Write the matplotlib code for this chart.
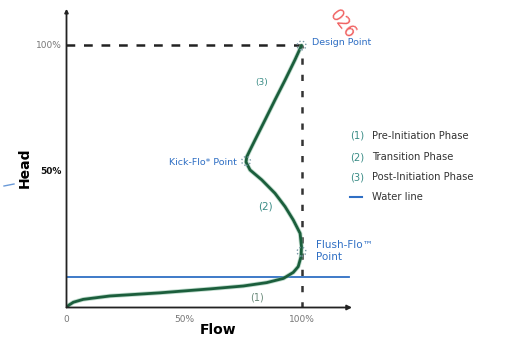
import matplotlib
matplotlib.use("Agg")
import matplotlib.pyplot as plt

# ---- data (fractions of design flow / head) ----
curve_flow = [0.0, 0.010, 0.029, 0.071, 0.185, 0.398, 0.611, 0.752, 0.852, 0.923,
              0.965, 0.986, 0.998, 1.0, 0.994, 0.965, 0.930, 0.887, 0.831, 0.781,
              0.764, 0.767, 0.781, 0.802, 0.845, 0.887, 0.930, 0.972, 1.0]
curve_head = [0.0, 0.009, 0.020, 0.031, 0.044, 0.056, 0.071, 0.082, 0.095, 0.111,
              0.134, 0.156, 0.194, 0.232, 0.283, 0.334, 0.385, 0.436, 0.487, 0.525,
              0.555, 0.575, 0.601, 0.639, 0.716, 0.792, 0.868, 0.945, 1.0]
water_line = 0.115
points = {"Design": (1.0, 1.0), "Kick": (0.764, 0.559), "Flush": (1.0, 0.213)}
x_ticks = [0.5, 1.0]
x_tick_labels = ["50%", "100%"]
y_ticks = [0.5, 1.0]
y_tick_labels = ["50%", "100%"]
legend_nums = ["(1)", "(2)", "(3)"]
legend_texts = ["Pre-Initiation Phase", "Transition Phase", "Post-Initiation Phase"]

GREEN = "#1b5e3c"
BLUE = "#2f6fc4"
TEAL = "#3a8c86"

fig = plt.figure(figsize=(5.06, 3.39), dpi=100)
ax = fig.add_axes([66.5 / 506, (339 - 307.5) / 339, 286 / 506, 298.7 / 339])
ax.set_xlim(0, 1.217)
ax.set_ylim(0, 1.14)
ax.axis("off")

# axes with arrows
ax.annotate("", xy=(1.215, 0), xytext=(0, 0),
            arrowprops=dict(arrowstyle="-|>", lw=1.3, color="#222222",
                            mutation_scale=7, shrinkA=0, shrinkB=0))
ax.annotate("", xy=(0, 1.14), xytext=(0, 0),
            arrowprops=dict(arrowstyle="-|>", lw=1.3, color="#222222",
                            mutation_scale=5, shrinkA=0, shrinkB=0))

# dashed guide lines
ax.plot([0, 1.0], [1.0, 1.0], ls=(0, (3.5, 3.5)), color="#222222", lw=1.8)
ax.plot([1.0, 1.0], [0, 1.0], ls=(0, (2.5, 4)), color="#333333", lw=1.8)

# water line
ax.plot([0, 1.2], [water_line, water_line], color=BLUE, lw=1.3)

# curve
ax.plot(curve_flow, curve_head, color="#7fb89a", lw=3.2, solid_capstyle="round",
        solid_joinstyle="round", alpha=0.5)
ax.plot(curve_flow, curve_head, color=GREEN, lw=2.0, solid_capstyle="round",
        solid_joinstyle="round")

# dotted point markers
for (px, py) in points.values():
    ax.scatter([px], [py], s=40, facecolors="none", edgecolors="#7a9aa8",
               linestyles=":", linewidths=1.0, zorder=5)

# ticks
tk = dict(fontsize=6.5, color="#777777")
for v, lab in zip(x_ticks, x_tick_labels):
    ax.text(v, -0.03, lab, ha="center", va="top", **tk)
ax.text(0, -0.03, "0", ha="center", va="top", **tk)
ax.text(-0.02, 1.0, y_tick_labels[1], ha="right", va="center", **tk)
ax.text(-0.02, 0.52, y_tick_labels[0], ha="right", va="center", fontsize=6.5,
        color="#111111", fontweight="bold")

# axis titles
fig.text(218 / 506, 1 - 330 / 339, "Flow", ha="center", va="center",
         fontsize=10, fontweight="bold")
fig.text(25 / 506, 1 - 168 / 339, "Head", ha="center", va="center",
         fontsize=10, fontweight="bold", rotation=90)

# annotations
ax.text(1.045, 1.01, "Design Point", color=BLUE, fontsize=6.8, ha="left", va="center")
ax.text(0.725, 0.555, "Kick-Flo* Point", color=BLUE, fontsize=6.8, ha="right", va="center")
ax.text(1.06, 0.215, "Flush-Flo\u2122\nPoint", color=BLUE, fontsize=7.5, ha="left",
        va="center", linespacing=1.3)
ax.text(0.83, 0.86, "(3)", color=TEAL, fontsize=6.5, ha="center", va="center")
ax.text(0.845, 0.385, "(2)", color=TEAL, fontsize=7.5, ha="center", va="center")
ax.text(0.81, 0.04, "(1)", color="#6a8a7a", fontsize=7, ha="center", va="center")

# legend
ly = [136, 157, 177]
for y, n, t in zip(ly, legend_nums, legend_texts):
    fig.text(350 / 506, 1 - y / 339, n, color=TEAL, fontsize=7.2, ha="left", va="center")
    fig.text(372 / 506, 1 - y / 339, t, color="#333333", fontsize=7.2, ha="left", va="center")
fig.lines.append(plt.Line2D([350 / 506, 362 / 506], [1 - 197 / 339, 1 - 197 / 339],
                            transform=fig.transFigure, color=BLUE, lw=1.5))
fig.text(372 / 506, 1 - 197 / 339, "Water line", color="#333333", fontsize=7.2,
         ha="left", va="center")

# scan artifacts: small blue dash and red watermark
fig.lines.append(plt.Line2D([4 / 506, 14 / 506], [1 - 186 / 339, 1 - 184 / 339],
                            transform=fig.transFigure, color="#6a9ad8", lw=1.0))
fig.text(343 / 506, 1 - 24 / 339, "026", color="#f06060", fontsize=12, rotation=-52,
         ha="center", va="center")

fig.savefig("out.png", dpi=100)
